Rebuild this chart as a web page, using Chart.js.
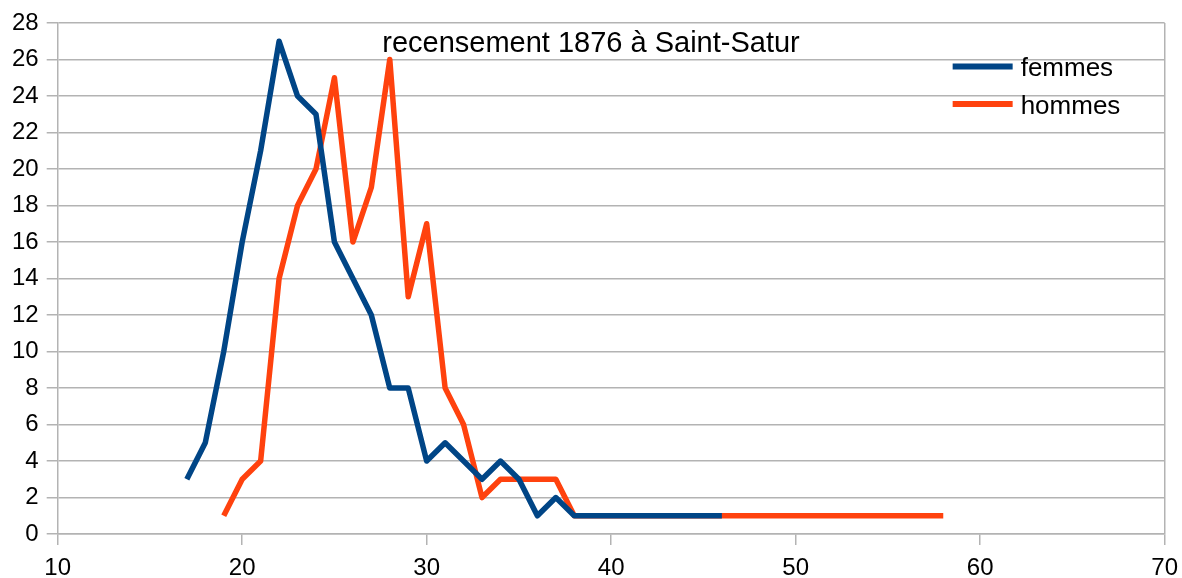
<!DOCTYPE html>
<html>
<head>
<meta charset="utf-8">
<script src="https://cdn.jsdelivr.net/npm/chart.js@4"></script>
<style>
  html, body { margin: 0; padding: 0; background: #fff; }
  #wrap { width: 1182px; height: 578px; }
</style>
</head>
<body>
<div id="wrap"><canvas id="chart" width="1182" height="578"></canvas></div>
<script>
const chartTitle = "recensement 1876 à Saint-Satur";

const femmesAges   = [17, 18, 19, 20, 21, 22, 23, 24, 25, 26, 27, 28, 29, 30, 31, 32, 33, 34, 35, 36, 37, 38, 39, 40, 41, 42, 43, 44, 45, 46];
const femmesCounts = [3, 5, 10, 16, 21, 27, 24, 23, 16, 14, 12, 8, 8, 4, 5, 4, 3, 4, 3, 1, 2, 1, 1, 1, 1, 1, 1, 1, 1, 1];

const hommesAges   = [19, 20, 21, 22, 23, 24, 25, 26, 27, 28, 29, 30, 31, 32, 33, 34, 35, 36, 37, 38, 58];
const hommesCounts = [1, 3, 4, 14, 18, 20, 25, 16, 19, 26, 13, 17, 8, 6, 2, 3, 3, 3, 3, 1, 1];

const xMin = 10, xMax = 70, xStep = 10;
const yMin = 0, yMax = 28, yStep = 2;

const gridColor = "#b3b3b3";
const family = "'Liberation Sans', Arial, sans-serif";

function points(xs, ys) {
  return xs.map((x, i) => ({ x: x, y: ys[i] }));
}

/* title and legend sit inside the plot area */
const insideText = {
  id: "insideText",
  afterDatasetsDraw(chart) {
    const c = chart.ctx;
    const area = chart.chartArea;
    c.save();
    c.fillStyle = "#000";
    c.textBaseline = "alphabetic";
    c.textAlign = "center";
    c.font = "29px " + family;
    c.fillText(chartTitle, chart.width / 2, area.top + 29);

    c.textAlign = "left";
    c.font = "26px " + family;
    chart.data.datasets.forEach((ds, i) => {
      const y = area.top + 43.5 + i * 37.5;
      const x0 = area.right - 212;
      c.strokeStyle = ds.borderColor;
      c.lineWidth = 6;
      c.beginPath();
      c.moveTo(x0, y);
      c.lineTo(x0 + 60, y);
      c.stroke();
      c.fillText(ds.label, x0 + 68, y + 9.5);
    });
    c.restore();
  }
};

const ctx = document.getElementById("chart").getContext("2d");

new Chart(ctx, {
  type: "line",
  data: {
    datasets: [
      {
        label: "femmes",
        data: points(femmesAges, femmesCounts),
        borderColor: "#004586",
        backgroundColor: "#004586",
        borderWidth: 5.5,
        borderJoinStyle: "round",
        pointRadius: 0,
        tension: 0
      },
      {
        label: "hommes",
        data: points(hommesAges, hommesCounts),
        borderColor: "#ff420e",
        backgroundColor: "#ff420e",
        borderWidth: 5.5,
        borderJoinStyle: "round",
        pointRadius: 0,
        tension: 0
      }
    ]
  },
  options: {
    responsive: false,
    animation: false,
    layout: { padding: { left: 4, right: 17, top: 23, bottom: -13 } },
    plugins: {
      legend: { display: false },
      title: { display: false },
      tooltip: { enabled: false }
    },
    scales: {
      x: {
        type: "linear",
        min: xMin,
        max: xMax,
        ticks: {
          stepSize: xStep,
          color: "#000",
          font: { family: family, size: 24, lineHeight: 1.58 },
          padding: 4,
          maxRotation: 0
        },
        grid: {
          drawOnChartArea: true,
          color: (c) => (c.tick && c.tick.value === xMax ? gridColor : "rgba(0,0,0,0)"),
          tickColor: gridColor,
          tickLength: 11,
          lineWidth: 1.5
        },
        border: { color: gridColor, width: 1.5 }
      },
      y: {
        min: yMin,
        max: yMax,
        ticks: { stepSize: yStep, color: "#000", font: { family: family, size: 24 }, padding: 8 },
        grid: { color: gridColor, tickColor: gridColor, tickLength: 11, lineWidth: 1.5 },
        border: { color: gridColor, width: 1.5 }
      }
    }
  },
  plugins: [insideText]
});
</script>
</body>
</html>
